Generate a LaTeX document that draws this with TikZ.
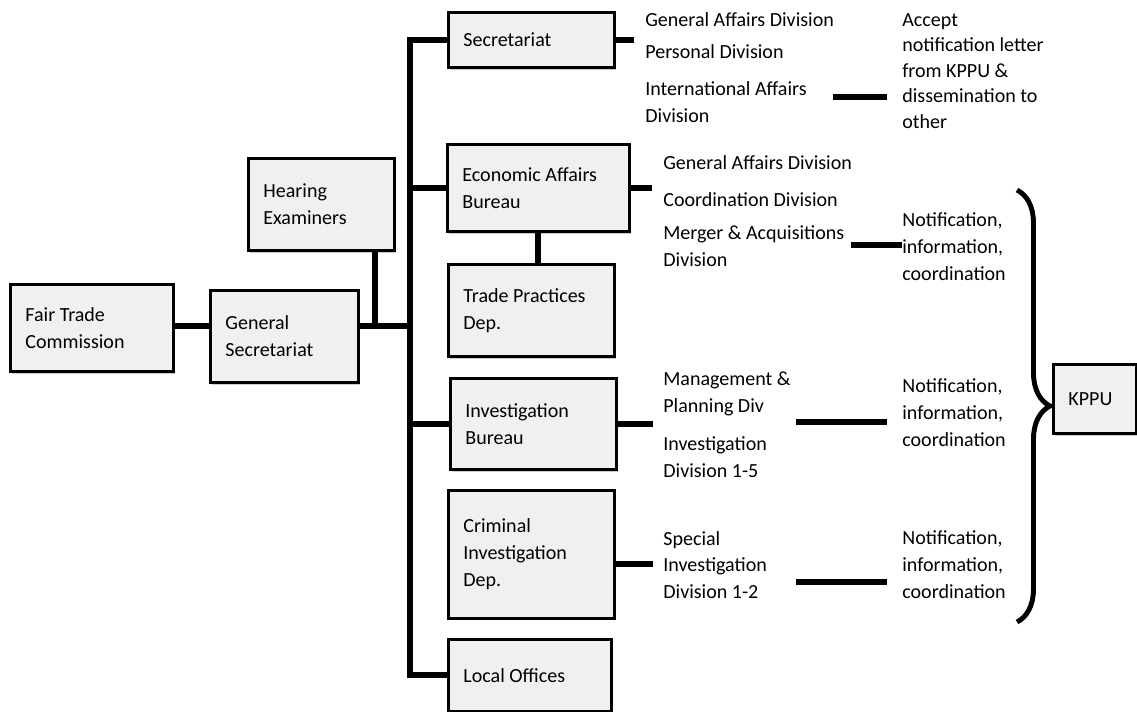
\documentclass[tikz,border=0pt]{standalone}
\usepackage{fontspec}
\setmainfont{Carlito}
\usepackage{tikz}
\usetikzlibrary{positioning,shadows,decorations.pathreplacing}
\tikzstyle{unit}=[rectangle,draw=black,line width=1.6pt,fill=black!6,anchor=north west,align=flush left,inner xsep=0.3cm,inner ysep=0pt,drop shadow={shadow xshift=0.7pt,shadow yshift=-1.2pt,fill=black!40,opacity=0.5},font=\fontsize{11.4}{15.3}\selectfont]
\tikzstyle{division}=[anchor=west,align=flush left,inner sep=0pt,font=\fontsize{11.4}{15.3}\selectfont]
\tikzstyle{link}=[line width=3.5pt]
\tikzstyle{kbrace}=[line width=2.8pt,decorate,decoration={brace,amplitude=0.66cm}]

\begin{document}
\begin{tikzpicture}[x=0.02cm,y=-0.02cm]
    \useasboundingbox (0,0) rectangle (1137,711);

    % Einheiten
    \node[unit,text width=2.66cm,minimum height=1.74cm] (ftc) at (9,283) {Fair Trade\\Commission};
    \node[unit,text width=2.36cm,minimum height=1.84cm] (gs) at (209,289) {General\\Secretariat};
    \node[unit,text width=2.32cm,minimum height=1.84cm] (he) at (247,157) {Hearing\\Examiners};
    \node[unit,text width=2.72cm,minimum height=1.1cm] (sec) at (447,11) {Secretariat};
    \node[unit,text width=3.04cm,minimum height=1.74cm] (eab) at (446,143) {Economic Affairs\\Bureau};
    \node[unit,text width=2.72cm,minimum height=1.84cm] (tpd) at (447,263) {Trade Practices\\Dep.};
    \node[unit,text width=2.72cm,minimum height=1.82cm] (ib) at (449,377) {Investigation\\Bureau};
    \node[unit,text width=2.72cm,minimum height=2.56cm] (cid) at (447,489) {Criminal\\Investigation\\Dep.};
    \node[unit,text width=2.66cm,minimum height=1.44cm] (lo) at (447,638) {Local Offices};
    \node[unit,text width=1.06cm,minimum height=1.38cm] (kppu) at (1052,363) {KPPU};

    % Abteilungen
    \node[division] (secga) at (645,20) {General Affairs Division};
    \node[division] (secpd) at (645,52) {Personal Division};
    \node[division] (secia) at (645,102) {International Affairs\\Division};
    \node[division,font=\fontsize{11.4}{14.5}\selectfont] (accept) at (902,71) {Accept\\notification letter\\from KPPU \&\\dissemination to\\other};
    \node[division] (eabga) at (663,163) {General Affairs Division};
    \node[division] (eabcd) at (663,200) {Coordination Division};
    \node[division] (eabma) at (663,246) {Merger \& Acquisitions\\Division};
    \node[division] (ibmp) at (663,394) {Management \&\\Planning Div};
    \node[division] (ibid) at (663,457) {Investigation\\Division 1-5};
    \node[division] (cidsp) at (663,565) {Special\\Investigation\\Division 1-2};
    \node[division] (note1) at (902,247) {Notification,\\information,\\coordination};
    \node[division] (note2) at (902,413) {Notification,\\information,\\coordination};
    \node[division] (note3) at (902,565) {Notification,\\information,\\coordination};

    % Verbindungen
    \coordinate (trunk) at (410,326);
    \coordinate (hj) at (375,326);
    \draw[link] (ftc.east |- trunk) -- (gs.west |- trunk);
    \draw[link] (gs.east |- trunk) -- (trunk);
    \draw[link] (he.south -| hj) -- (hj);
    \draw[link] (sec.west) -| (trunk) |- (lo.west);
    \draw[link] (eab.west) -- (eab.west -| trunk);
    \draw[link] (ib.west) -- (ib.west -| trunk);
    \draw[link] (eab.south) -- (eab.south |- tpd.north);

    \draw[link] (sec.east) -- ++(18,0) coordinate (secstub);
    \draw[link] (eab.east) -- ++(21,0) coordinate (eabstub);
    \draw[link] (ib.east) -- ++(35,0) coordinate (ibstub);
    \draw[link] ([yshift=-0.2cm]cid.east) -- ++(37,0) coordinate (cidstub);

    \coordinate (la) at (833,97);   \coordinate (lb) at (887,97);
    \coordinate (lc) at (851,245);  \coordinate (ld) at (902,245);
    \coordinate (le) at (796,422);  \coordinate (lf) at (887,422);
    \coordinate (lg) at (796,582);  \coordinate (lh) at (887,582);
    \draw[link] (la) -- (lb);
    \draw[link] (lc) -- (ld);
    \draw[link] (le) -- (lf);
    \draw[link] (lg) -- (lh);

    % Klammer
    \coordinate (btop) at (1017,190);
    \coordinate (bbot) at (1017,622);
    \draw[kbrace] (btop) -- (bbot);

\end{tikzpicture}
\end{document}
